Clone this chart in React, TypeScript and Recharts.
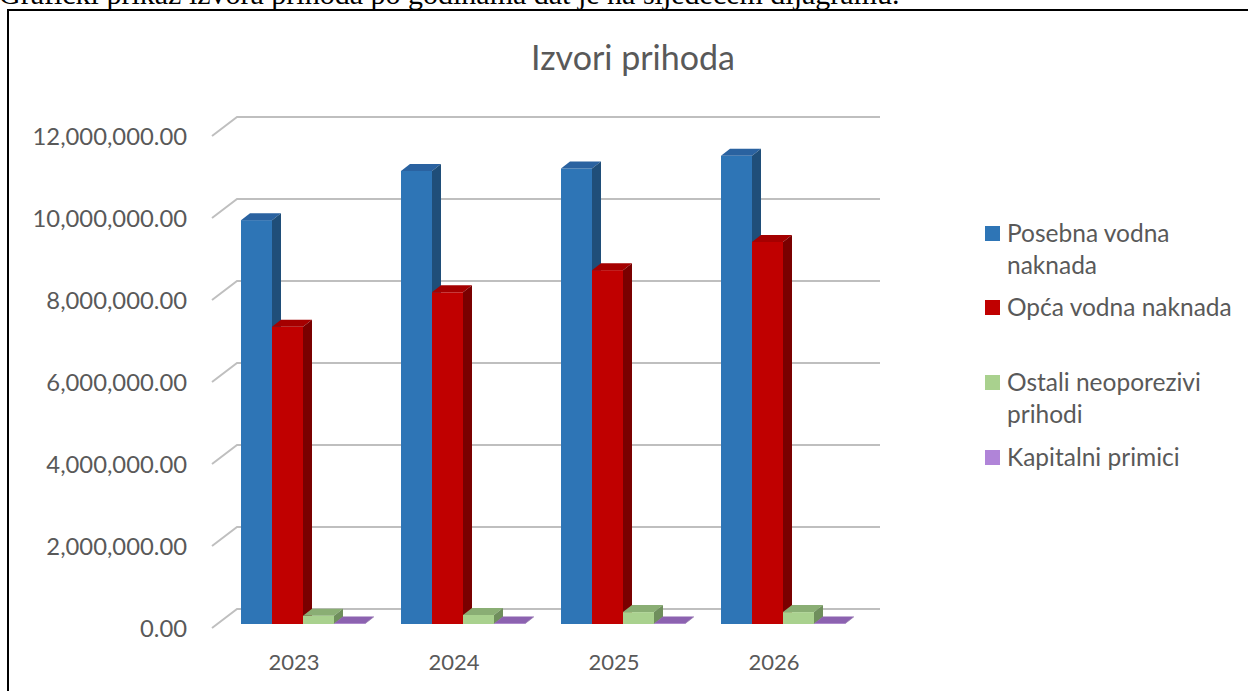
import React from 'react';
import { BarChart, Bar, XAxis, YAxis, CartesianGrid } from 'recharts';

const years = ['2023', '2024', '2025', '2026'];
const posebnaVodna = [9850000, 11050000, 11110000, 11420000];
const opcaVodna = [7250000, 8090000, 8630000, 9320000];
const ostaliNeoporezivi = [200000, 220000, 290000, 290000];
const kapitalniPrimici = [15000, 15000, 15000, 15000];
const yTicks = [0, 2000000, 4000000, 6000000, 8000000, 10000000, 12000000];

const series = [
  { key: 'posebna', name: 'Posebna vodna naknada', front: '#2E75B6', top: '#2A62A0', side: '#1F4E79' },
  { key: 'opca', name: 'Opća vodna naknada', front: '#C00000', top: '#A50000', side: '#7A0000' },
  { key: 'ostali', name: 'Ostali neoporezivi prihodi', front: '#A9D18E', top: '#8AAE74', side: '#6F8F5C' },
  { key: 'kapitalni', name: 'Kapitalni primici', front: '#B084D8', top: '#8C62B0', side: '#6E4C8E' },
];

const data = years.map((year, i) => ({
  year,
  posebna: posebnaVodna[i],
  opca: opcaVodna[i],
  ostali: ostaliNeoporezivi[i],
  kapitalni: kapitalniPrimici[i],
}));

const FONT = 'Lato, "Open Sans", sans-serif';
const TEXT = '#595959';
const DX = 9;
const DY = 7;

// fake 3d column: front face + top + right side
const make3D = (c: any) => (props: any) => {
  const { x, y, width, height } = props;
  if (width == null || height == null) return <g />;
  return (
    <g>
      <rect x={x} y={y} width={width} height={height} fill={c.front} />
      <polygon points={`${x},${y} ${x + DX},${y - DY} ${x + width + DX},${y - DY} ${x + width},${y}`} fill={c.top} />
      <polygon
        points={`${x + width},${y} ${x + width + DX},${y - DY} ${x + width + DX},${y + height - DY} ${x + width},${y + height}`}
        fill={c.side}
      />
    </g>
  );
};

// gridline with a short diagonal on the floor/side wall, like Excel's 3D chart
const gridLine = (props: any) => {
  const { x1, x2, y1 } = props;
  return (
    <polyline
      key={props.key}
      points={`${x1 - 11},${y1 + 4} ${x1 + 14},${y1 - 15} ${x2 + 17},${y1 - 15}`}
      fill="none"
      stroke="#BFBFBF"
      strokeWidth={2}
    />
  );
};

const fmt = (v: number) => v.toLocaleString('en-US', { minimumFractionDigits: 2, maximumFractionDigits: 2 });

const YTick = (props: any) => {
  const { y, payload } = props;
  return (
    <text x={187} y={y + 4} textAnchor="end" dominantBaseline="central" fill={TEXT} fontSize={23.8} fontFamily={FONT}>
      {fmt(payload.value)}
    </text>
  );
};

const XTick = (props: any) => {
  const { x, payload } = props;
  return (
    <text x={x - 9} y={661} textAnchor="middle" dominantBaseline="central" fill={TEXT} fontSize={22} fontFamily={FONT}>
      {payload.value}
    </text>
  );
};

const legendTops = [217, 291, 366, 441];

const App: React.FC = () => {
  return (
    <div style={{ position: 'absolute', left: 0, top: 0, width: 1248, height: 691, overflow: 'hidden', background: '#fff' }}>
      <div
        style={{
          position: 'absolute', left: -1, top: -22, whiteSpace: 'nowrap',
          fontFamily: '"Liberation Serif", "Times New Roman", serif', fontSize: 30, lineHeight: '32px', color: '#000',
        }}
      >
        Grafički prikaz izvora prihoda po godinama dat je na sljedećem dijagramu.
      </div>
      <div style={{ position: 'absolute', left: 7, top: 9, width: 1300, height: 800, border: '2px solid #000' }} />

      <div
        style={{
          position: 'absolute', left: 0, top: 37, width: 1266, textAlign: 'center',
          fontFamily: FONT, fontSize: 34, color: TEXT, lineHeight: '40px',
        }}
      >
        Izvori prihoda
      </div>

      <div style={{ position: 'absolute', left: 0, top: 0 }}>
        <BarChart
          width={1248}
          height={691}
          data={data}
          margin={{ top: 132, right: 385, bottom: 17, left: 0 }}
          barCategoryGap={18}
          barGap={0}
        >
          <CartesianGrid vertical={false} horizontal={gridLine} />
          <XAxis dataKey="year" height={50} axisLine={false} tickLine={false} tick={XTick} />
          <YAxis
            width={223}
            domain={[0, 12000000]}
            ticks={yTicks}
            axisLine={false}
            tickLine={false}
            tick={YTick}
          />
          {series.map((s) => (
            <Bar key={s.key} dataKey={s.key} name={s.name} fill={s.front} shape={make3D(s)} isAnimationActive={false} />
          ))}
        </BarChart>
      </div>

      {series.map((s, i) => (
        <div
          key={s.key}
          style={{
            position: 'absolute', left: 985, top: legendTops[i], width: 262, display: 'flex', alignItems: 'flex-start',
            fontFamily: FONT, fontSize: 24.5, lineHeight: '32px', color: TEXT,
          }}
        >
          <span style={{ width: 15, height: 15, background: s.front, marginTop: 9, marginRight: 7, flexShrink: 0 }} />
          <span style={{ width: 238 }}>{s.name}</span>
        </div>
      ))}
    </div>
  );
};

export default App;
